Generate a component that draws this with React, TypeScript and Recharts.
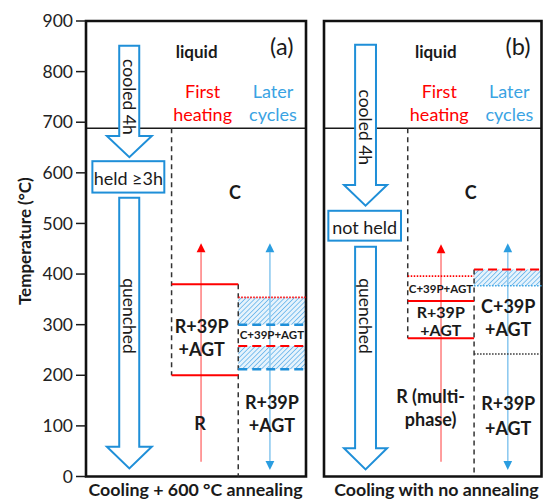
import React from 'react';
import { ComposedChart, XAxis, YAxis, Line, ReferenceArea, ReferenceLine, ReferenceDot } from 'recharts';

const FONT = 'Lato, "Open Sans", sans-serif';
const BLUE = '#1f8fd8';
const LATER_BLUE = '#3aa3e3';
const RED = '#ff0000';
const INK = '#1a1a1a';

// ---------- data ----------
const tempTicks = [0, 100, 200, 300, 400, 500, 600, 700, 800, 900];
const liquidTemp = 688;
// extent of each panel: x in panel units, temperature in °C
const panelExtent = [{ x: 0, t: 0 }, { x: 100, t: 900 }];

// panel (a): cooling + 600 °C annealing
const aCooled = { top: 851, headBase: 673, tip: 631, label: 'cooled 4h', labelAt: 750 };
const aHold = { top: 623, bottom: 561, label: 'held ≥3h' };
const aQuench = { top: 551, headBase: 59, tip: 16, label: 'quenched', labelAt: 317 };
const aFirstSolid = [380, 200];
const aFirstDotted: number[] = [];
const aDash1 = [688, 200];
const aDash2 = [380, 0];
const aHatch = [[300, 354], [212, 258]];
const aLaterRedDotted = [354];
const aLaterRedDashed = [258];
const aLaterBlueDashed = [300, 212];
const aLaterBlueDotted: number[] = [];
const aLaterBlackDotted: number[] = [];
const aFirstArrow = [29, 461];
const aLaterArrow = [13, 461];

// panel (b): cooling with no annealing
const bCooled = { top: 853, headBase: 576, tip: 535, label: 'cooled 4h', labelAt: 690 };
const bHold = { top: 525, bottom: 466, label: 'not held' };
const bQuench = { top: 454, headBase: 56, tip: 14, label: 'quenched', labelAt: 317 };
const bFirstSolid = [347, 273];
const bFirstDotted = [396];
const bDash1 = [688, 273];
const bDash2 = [409, 0];
const bHatch = [[377, 409]];
const bLaterRedDotted: number[] = [];
const bLaterRedDashed = [409];
const bLaterBlueDashed: number[] = [];
const bLaterBlueDotted = [377];
const bLaterBlackDotted = [242];
const bFirstArrow = [29, 459];
const bLaterArrow = [13, 461];

// text labels: [text, x (0-100 panel units), temperature, kind]
const aTexts: [string, number, number, string][] = [
  ['liquid', 50.3, 839, 'bold'],
  ['(a)', 89, 851, 'big'],
  ['First', 53, 762, 'red'],
  ['heating', 53, 716, 'red'],
  ['Later', 85, 762, 'blue'],
  ['cycles', 85, 716, 'blue'],
  ['C', 67.7, 563, 'phase'],
  ['R+39P', 52.6, 297, 'phase'],
  ['+AGT', 52.6, 251, 'phase'],
  ['R', 51.8, 105, 'phase'],
  ['C+39P+AGT', 84.5, 280, 'small'],
  ['R+39P', 84.5, 148, 'phase'],
  ['+AGT', 84.5, 101, 'phase'],
];
const bTexts: [string, number, number, string][] = [
  ['liquid', 51.4, 839, 'bold'],
  ['(b)', 89.2, 851, 'big'],
  ['First', 53, 762, 'red'],
  ['heating', 53, 716, 'red'],
  ['Later', 85.2, 762, 'blue'],
  ['cycles', 85.2, 716, 'blue'],
  ['C', 67.4, 563, 'phase'],
  ['C+39P+AGT', 53.8, 371, 'small'],
  ['R+39P', 53.7, 327, 'tight'],
  ['+AGT', 53.7, 290, 'tight'],
  ['C+39P', 84.7, 336, 'phase'],
  ['+AGT', 84.7, 292, 'phase'],
  ['R (multi-', 49, 159, 'phase'],
  ['phase)', 49, 114, 'phase'],
  ['R+39P', 84.7, 146, 'phase'],
  ['+AGT', 84.7, 96, 'phase'],
];

const aLayout = { shaft: [15.1, 24.2], head: [9.5, 29.9], box: [2.9, 35.6], col1: 38.9, col2: 69.2, redX: 52.3, blueX: 83.6, xLabel: 49.8 };
const bLayout = { shaft: [14.3, 23.9], head: [9.2, 29.0], box: [2, 35.4], col1: 38.5, col2: 69, redX: 53.8, blueX: 84.5, xLabel: 51.7 };

const textStyles: Record<string, any> = {
  bold: { fontSize: 17, fontWeight: 700, fill: INK },
  big: { fontSize: 23.5, fontWeight: 400, fill: INK },
  red: { fontSize: 18, fontWeight: 400, fill: RED },
  blue: { fontSize: 18, fontWeight: 400, fill: LATER_BLUE },
  phase: { fontSize: 18, fontWeight: 700, fill: INK },
  tight: { fontSize: 16, fontWeight: 700, fill: INK },
  small: { fontSize: 11.5, fontWeight: 700, fill: INK },
};

// ---------- shapes ----------
function blockArrowShape(arrow: any, shaft: number[], head: number[]) {
  return (p: any) => {
    const { x, y, width: w, height: h } = p;
    const sl = (shaft[0] - head[0]) / (head[1] - head[0]);
    const sr = (shaft[1] - head[0]) / (head[1] - head[0]);
    const bf = (arrow.top - arrow.headBase) / (arrow.top - arrow.tip);
    const lf = (arrow.top - arrow.labelAt) / (arrow.top - arrow.tip);
    const by = y + bf * h;
    const pts = [
      [x + sl * w, y], [x + sr * w, y], [x + sr * w, by], [x + w, by],
      [x + w / 2, y + h], [x, by], [x + sl * w, by],
    ].map((q) => q.join(',')).join(' ');
    const cx = x + ((sl + sr) / 2) * w;
    const cy = y + lf * h;
    return (
      <g>
        <polygon points={pts} fill="#fff" stroke={BLUE} strokeWidth={2} />
        <text x={cx} y={cy} transform={`rotate(90 ${cx} ${cy})`} textAnchor="middle" dominantBaseline="central"
          fontSize={17.5} fill={INK} fontFamily={FONT}>{arrow.label}</text>
      </g>
    );
  };
}

function boxShape(label: string) {
  return (p: any) => {
    const { x, y, width: w, height: h } = p;
    return (
      <g>
        <rect x={x} y={y} width={w} height={h} fill="#fff" stroke={BLUE} strokeWidth={2} />
        <text x={x + w / 2} y={y + h / 2 + 1} textAnchor="middle" dominantBaseline="central" fontSize={18} fill={INK} fontFamily={FONT}>{label}</text>
      </g>
    );
  };
}

function thinArrowShape(lineColor: string, headColor: string, double: boolean) {
  return (p: any) => {
    const { x, y, width: w, height: h } = p;
    const cx = x + w / 2;
    const hl = 9;
    return (
      <g>
        <line x1={cx} x2={cx} y1={y + hl} y2={double ? y + h - hl : y + h} stroke={lineColor} strokeWidth={1.6} />
        <polygon points={`${cx},${y} ${x},${y + hl} ${x + w},${y + hl}`} fill={headColor} />
        {double && <polygon points={`${cx},${y + h} ${x},${y + h - hl} ${x + w},${y + h - hl}`} fill={headColor} />}
      </g>
    );
  };
}

function hatchShape(id: string) {
  return (p: any) => {
    const { x, y, width: w, height: h } = p;
    return (
      <g>
        <defs>
          <pattern id={id} patternUnits="userSpaceOnUse" width={3.4} height={3.4} patternTransform="rotate(45)">
            <rect width={3.4} height={3.4} fill="#e6f3fc" />
            <line x1={0} y1={0} x2={0} y2={3.4} stroke="#55abe9" strokeWidth={1.4} />
          </pattern>
        </defs>
        <rect x={x} y={y} width={w} height={h} fill={`url(#${id})`} />
      </g>
    );
  };
}

function liquidLineShape(p: any) {
  const { x, y, width: w, height: h } = p;
  return <line x1={x} x2={x + w} y1={y + h} y2={y + h} stroke={INK} strokeWidth={1.4} />;
}

function textShape(text: string, kind: string) {
  return (p: any) => (
    <text x={p.cx} y={p.cy} textAnchor="middle" dominantBaseline="central" fontFamily={FONT} {...textStyles[kind]}>{text}</text>
  );
}

function hLines(key: string, temps: number[], x1: number, x2: number, props: any) {
  return temps.map((t, i) => (
    <ReferenceLine key={`${key}${i}`} segment={[{ x: x1, y: t }, { x: x2, y: t }]} ifOverflow="visible" {...props} />
  ));
}

// ---------- panel ----------
function Panel(props: any) {
  const { id, width, left, yWidth, showLabels, L, cooled, hold, quench, firstSolid, firstDotted, dash1, dash2,
    hatch, laterRedDotted, laterRedDashed, laterBlueDashed, laterBlueDotted, laterBlackDotted,
    firstArrow, laterArrow, texts, xLabel } = props;
  return (
    <div style={{ position: 'absolute', left, top: 0 }}>
      <ComposedChart width={width} height={499} data={panelExtent}
        margin={{ top: 21, right: width - yWidth - L.plotW, bottom: 22.5, left: 0 }}>
        <XAxis type="number" dataKey="x" domain={[0, 100]} hide />
        <YAxis type="number" domain={[0, 900]} ticks={tempTicks} width={yWidth} tickSize={10} tickMargin={3}
          axisLine={false} tickLine={{ stroke: INK, strokeWidth: 1.5 }}
          tick={showLabels ? { fontSize: 17.5, fill: '#222', fontFamily: FONT } : false} interval={0} />
        <Line dataKey="t" stroke="none" dot={false} activeDot={false} isAnimationActive={false} legendType="none" />

        <ReferenceArea x1={0} x2={100} y1={liquidTemp} y2={900} shape={liquidLineShape} />

        {hatch.map((hh: number[], i: number) => (
          <ReferenceArea key={`h${i}`} x1={L.col2} x2={100} y1={hh[0]} y2={hh[1]} shape={hatchShape(`${id}hatch${i}`)} />
        ))}

        <ReferenceArea x1={L.redX - 2} x2={L.redX + 2} y1={firstArrow[0]} y2={firstArrow[1]} shape={thinArrowShape('#ff8585', RED, false)} />
        <ReferenceArea x1={L.blueX - 2} x2={L.blueX + 2} y1={laterArrow[0]} y2={laterArrow[1]} shape={thinArrowShape('#8fcaf0', '#2a9de0', true)} />

        <ReferenceArea x1={L.head[0]} x2={L.head[1]} y1={cooled.tip} y2={cooled.top} shape={blockArrowShape(cooled, L.shaft, L.head)} />
        <ReferenceArea x1={L.box[0]} x2={L.box[1]} y1={hold.bottom} y2={hold.top} shape={boxShape(hold.label)} />
        <ReferenceArea x1={L.head[0]} x2={L.head[1]} y1={quench.tip} y2={quench.top} shape={blockArrowShape(quench, L.shaft, L.head)} />

        <ReferenceLine segment={[{ x: L.col1, y: dash1[0] }, { x: L.col1, y: dash1[1] }]} stroke="#333" strokeWidth={1.5} strokeDasharray="5 4" ifOverflow="visible" />
        <ReferenceLine segment={[{ x: L.col2, y: dash2[0] }, { x: L.col2, y: dash2[1] }]} stroke="#333" strokeWidth={1.5} strokeDasharray="5 4" ifOverflow="visible" />

        {hLines('fs', firstSolid, L.col1, L.col2, { stroke: RED, strokeWidth: 2 })}
        {hLines('fd', firstDotted, L.col1, L.col2, { stroke: RED, strokeWidth: 1.6, strokeDasharray: '1.5 1.5' })}

        {hLines('lrd', laterRedDotted, L.col2, 100, { stroke: RED, strokeWidth: 1.6, strokeDasharray: '1.5 1.5' })}
        {hLines('lrD', laterRedDashed, L.col2, 100, { stroke: RED, strokeWidth: 2, strokeDasharray: '9 5' })}
        {hLines('lbD', laterBlueDashed, L.col2, 100, { stroke: BLUE, strokeWidth: 2.5, strokeDasharray: '9 5' })}
        {hLines('lbd', laterBlueDotted, L.col2, 100, { stroke: LATER_BLUE, strokeWidth: 1.6, strokeDasharray: '1.5 1.5' })}
        {hLines('lkd', laterBlackDotted, L.col2, 100, { stroke: '#333', strokeWidth: 1.6, strokeDasharray: '1.5 1.5' })}

        {texts.map((t: any, i: number) => (
          <ReferenceDot key={`t${i}`} x={t[1]} y={t[2]} r={0} ifOverflow="visible" shape={textShape(t[0], t[3])} />
        ))}

        <ReferenceDot x={L.xLabel} y={0} r={0} ifOverflow="visible"
          shape={(p: any) => (
            <text x={p.cx} y={p.cy + 12} textAnchor="middle" dominantBaseline="central" fontFamily={FONT} fontSize={17.8} fontWeight={700} fill={INK}>{xLabel}</text>
          )} />
        {showLabels && (
          <ReferenceDot x={0} y={465} r={0} ifOverflow="visible"
            shape={(p: any) => {
              const tx = p.cx - 61;
              return (
                <text x={tx} y={p.cy} transform={`rotate(-90 ${tx} ${p.cy})`} textAnchor="middle" dominantBaseline="central"
                  fontFamily={FONT} fontSize={17} fontWeight={700} fill={INK}>Temperature (°C)</text>
              );
            }} />
        )}

        <ReferenceArea x1={0} x2={100} y1={0} y2={900} fill="none" fillOpacity={0} stroke="#111" strokeWidth={2.6} />
      </ComposedChart>
    </div>
  );
}

export default function App() {
  return (
    <div style={{ position: 'absolute', left: 0, top: 0, width: 543, height: 499, background: '#fff' }}>
      <Panel id="a" left={0} width={308} yWidth={86} showLabels L={{ ...aLayout, plotW: 220 }}
        cooled={aCooled} hold={aHold} quench={aQuench} firstSolid={aFirstSolid} firstDotted={aFirstDotted}
        dash1={aDash1} dash2={aDash2} hatch={aHatch} laterRedDotted={aLaterRedDotted} laterRedDashed={aLaterRedDashed}
        laterBlueDashed={aLaterBlueDashed} laterBlueDotted={aLaterBlueDotted} laterBlackDotted={aLaterBlackDotted}
        firstArrow={aFirstArrow} laterArrow={aLaterArrow} texts={aTexts} xLabel="Cooling + 600 °C annealing" />
      <Panel id="b" left={306} width={237} yWidth={18} showLabels={false} L={{ ...bLayout, plotW: 217.5 }}
        cooled={bCooled} hold={bHold} quench={bQuench} firstSolid={bFirstSolid} firstDotted={bFirstDotted}
        dash1={bDash1} dash2={bDash2} hatch={bHatch} laterRedDotted={bLaterRedDotted} laterRedDashed={bLaterRedDashed}
        laterBlueDashed={bLaterBlueDashed} laterBlueDotted={bLaterBlueDotted} laterBlackDotted={bLaterBlackDotted}
        firstArrow={bFirstArrow} laterArrow={bLaterArrow} texts={bTexts} xLabel="Cooling with no annealing" />
    </div>
  );
}
